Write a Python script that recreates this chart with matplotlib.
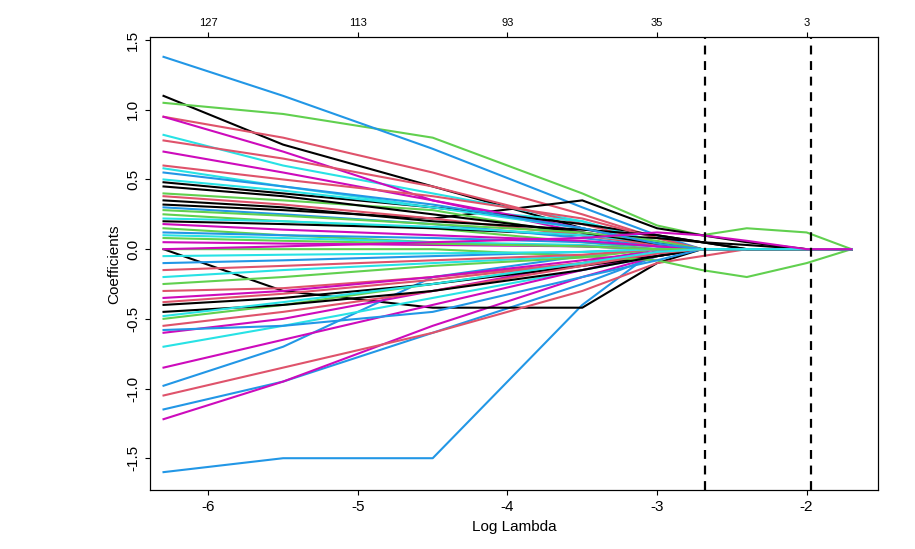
import matplotlib
matplotlib.use("Agg")
import matplotlib.pyplot as plt
plt.rcParams["axes.unicode_minus"] = False
plt.rcParams["font.family"] = "Liberation Sans"

log_lambda = [-6.3, -5.5, -4.5, -3.5, -3.0, -2.7, -2.4, -2.0, -1.7]
top_ticks = [-6, -5, -4, -3, -2]
top_labels = ["127", "113", "93", "35", "3"]
cv_lines = [-2.68, -1.97]

paths = [
    [1.10, 0.75, 0.45, 0.15, 0.05, 0.0, 0.0, 0.0, 0.0],
    [0.95, 0.80, 0.55, 0.25, 0.08, 0.0, 0.0, 0.0, 0.0],
    [1.05, 0.97, 0.80, 0.40, 0.17, 0.10, 0.15, 0.12, 0.0],
    [1.38, 1.10, 0.72, 0.30, 0.10, 0.0, 0.0, 0.0, 0.0],
    [0.82, 0.60, 0.40, 0.20, 0.05, 0.0, 0.0, 0.0, 0.0],
    [0.95, 0.70, 0.35, 0.12, 0.02, 0.0, 0.0, 0.0, 0.0],
    [0.32, 0.28, 0.22, 0.35, 0.15, 0.10, 0.05, 0.0, 0.0],
    [0.78, 0.65, 0.45, 0.18, 0.05, 0.0, 0.0, 0.0, 0.0],
    [0.40, 0.35, 0.28, 0.10, 0.03, 0.0, 0.0, 0.0, 0.0],
    [-1.60, -1.50, -1.50, -0.40, 0.0, 0.0, 0.0, 0.0, 0.0],
    [0.58, 0.45, 0.30, 0.20, 0.05, 0.0, 0.0, 0.0, 0.0],
    [0.70, 0.55, 0.35, 0.15, 0.03, 0.0, 0.0, 0.0, 0.0],
    [0.48, 0.40, 0.30, 0.18, 0.10, 0.05, 0.0, 0.0, 0.0],
    [0.60, 0.50, 0.38, 0.22, 0.08, 0.0, 0.0, 0.0, 0.0],
    [0.25, 0.20, 0.15, 0.05, 0.0, 0.0, 0.0, 0.0, 0.0],
    [-1.15, -0.95, -0.60, -0.25, -0.05, 0.0, 0.0, 0.0, 0.0],
    [0.50, 0.42, 0.30, 0.15, 0.05, 0.0, 0.0, 0.0, 0.0],
    [-1.22, -0.95, -0.55, -0.20, -0.05, 0.0, 0.0, 0.0, 0.0],
    [0.00, -0.30, -0.42, -0.42, -0.10, 0.0, 0.0, 0.0, 0.0],
    [-1.05, -0.85, -0.60, -0.30, -0.10, -0.05, 0.0, 0.0, 0.0],
    [0.15, 0.10, 0.05, 0.02, 0.0, 0.0, 0.0, 0.0, 0.0],
    [-0.98, -0.70, -0.20, -0.05, 0.0, 0.0, 0.0, 0.0, 0.0],
    [-0.70, -0.55, -0.35, -0.15, -0.05, 0.0, 0.0, 0.0, 0.0],
    [-0.60, -0.50, -0.30, -0.10, 0.0, 0.0, 0.0, 0.0, 0.0],
    [0.20, 0.18, 0.15, 0.10, 0.08, 0.05, 0.03, 0.0, 0.0],
    [-0.30, -0.28, -0.20, -0.10, -0.05, 0.0, 0.0, 0.0, 0.0],
    [-0.50, -0.40, -0.25, -0.10, -0.02, 0.0, 0.0, 0.0, 0.0],
    [-0.10, -0.08, -0.05, -0.02, 0.0, 0.0, 0.0, 0.0, 0.0],
    [-0.20, -0.15, -0.10, -0.05, 0.0, 0.0, 0.0, 0.0, 0.0],
    [-0.85, -0.65, -0.40, -0.15, -0.03, 0.0, 0.0, 0.0, 0.0],
    [-0.40, -0.35, -0.25, -0.12, -0.05, 0.0, 0.0, 0.0, 0.0],
    [-0.55, -0.45, -0.30, -0.12, -0.03, 0.0, 0.0, 0.0, 0.0],
    [0.00, 0.00, 0.00, -0.05, -0.08, -0.15, -0.20, -0.10, 0.0],
    [0.30, 0.25, 0.18, 0.08, 0.02, 0.0, 0.0, 0.0, 0.0],
    [0.10, 0.08, 0.05, 0.03, 0.0, 0.0, 0.0, 0.0, 0.0],
    [0.05, 0.04, 0.03, 0.02, 0.0, 0.0, 0.0, 0.0, 0.0],
    [-0.45, -0.40, -0.30, -0.15, -0.05, 0.0, 0.0, 0.0, 0.0],
    [0.38, 0.32, 0.22, 0.10, 0.03, 0.0, 0.0, 0.0, 0.0],
    [-0.25, -0.20, -0.12, -0.06, 0.0, 0.0, 0.0, 0.0, 0.0],
    [-0.58, -0.55, -0.45, -0.20, -0.08, 0.0, 0.0, 0.0, 0.0],
    [0.22, 0.20, 0.16, 0.10, 0.05, 0.0, 0.0, 0.0, 0.0],
    [-0.35, -0.30, -0.20, -0.08, -0.02, 0.0, 0.0, 0.0, 0.0],
    [0.45, 0.38, 0.25, 0.12, 0.04, 0.0, 0.0, 0.0, 0.0],
    [-0.15, -0.12, -0.08, -0.04, 0.0, 0.0, 0.0, 0.0, 0.0],
    [0.28, 0.24, 0.18, 0.12, 0.06, 0.0, 0.0, 0.0, 0.0],
    [0.12, 0.10, 0.08, 0.05, 0.02, 0.0, 0.0, 0.0, 0.0],
    [-0.05, -0.04, -0.03, -0.02, 0.0, 0.0, 0.0, 0.0, 0.0],
    [0.18, 0.14, 0.10, 0.06, 0.02, 0.0, 0.0, 0.0, 0.0],
    [0.35, 0.30, 0.20, 0.14, 0.10, 0.05, 0.0, 0.0, 0.0],
    [-0.38, -0.32, -0.22, -0.10, -0.03, 0.0, 0.0, 0.0, 0.0],
    [0.08, 0.06, 0.04, 0.02, 0.0, 0.0, 0.0, 0.0, 0.0],
    [0.55, 0.45, 0.32, 0.15, 0.04, 0.0, 0.0, 0.0, 0.0],
    [-0.48, -0.38, -0.25, -0.10, -0.02, 0.0, 0.0, 0.0, 0.0],
    [0.00, 0.02, 0.05, 0.08, 0.12, 0.10, 0.06, 0.0, 0.0],
]
palette = ["black", "#DF536B", "#61D04F", "#2297E6", "#28E2E5", "#CD0BBC"]

fig = plt.figure(figsize=(9.15, 5.49), dpi=100)
ax = fig.add_axes([0.164, 0.107, 0.796, 0.825])
for i, p in enumerate(paths):
    ax.plot(log_lambda, p, color=palette[i % len(palette)], lw=1.5)
for v in cv_lines:
    ax.axvline(v, color="black", ls=(0, (4, 3)), lw=1.6)
ax.set_xlim(-6.39, -1.52)
ax.set_ylim(-1.73, 1.52)
ax.set_xticks([-6, -5, -4, -3, -2])
ax.set_yticks([-1.5, -1.0, -0.5, 0.0, 0.5, 1.0, 1.5])
ax.set_yticklabels(["-1.5", "-1.0", "-0.5", "0.0", "0.5", "1.0", "1.5"], rotation=90, va="center")
ax.set_xlabel("Log Lambda", fontsize=11)
ax.set_ylabel("Coefficients", fontsize=11)
ax.tick_params(labelsize=11)
top = ax.twiny()
top.set_xlim(ax.get_xlim())
top.set_xticks(top_ticks)
top.set_xticklabels(top_labels, fontsize=8)
fig.savefig("out.png")
